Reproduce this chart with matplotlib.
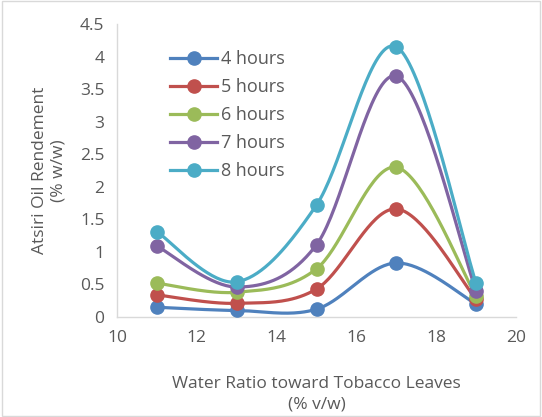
import numpy as np
import matplotlib.pyplot as plt
from matplotlib.patches import Rectangle

# water ratio (% v/w)
ratio = [11, 13, 15, 17, 19]
h4 = [0.15, 0.10, 0.12, 0.83, 0.20]
h5 = [0.34, 0.21, 0.43, 1.66, 0.27]
h6 = [0.52, 0.38, 0.74, 2.30, 0.32]
h7 = [1.09, 0.46, 1.11, 3.70, 0.40]
h8 = [1.31, 0.54, 1.72, 4.15, 0.52]
labels = ['4 hours', '5 hours', '6 hours', '7 hours', '8 hours']
colors = ['#4F81BD', '#C0504D', '#9BBB59', '#8064A2', '#4BACC6']


def smooth(x, y, n=40):
    # Excel-like smoothed line: Bezier segments with Catmull-Rom control points
    x = np.asarray(x, float)
    y = np.asarray(y, float)
    px = np.concatenate([[x[0]], x, [x[-1]]])
    py = np.concatenate([[y[0]], y, [y[-1]]])
    xs, ys = [], []
    t = np.linspace(0, 1, n)
    for i in range(len(x) - 1):
        p0 = np.array([px[i + 1], py[i + 1]])
        p3 = np.array([px[i + 2], py[i + 2]])
        p1 = p0 + (np.array([px[i + 2], py[i + 2]]) - np.array([px[i], py[i]])) / 6
        p2 = p3 - (np.array([px[i + 3], py[i + 3]]) - np.array([px[i + 1], py[i + 1]])) / 6
        b = ((1 - t) ** 3)[:, None] * p0 + (3 * (1 - t) ** 2 * t)[:, None] * p1 \
            + (3 * (1 - t) * t ** 2)[:, None] * p2 + (t ** 3)[:, None] * p3
        xs.extend(b[:, 0])
        ys.extend(b[:, 1])
    return xs, ys


plt.rcParams['font.family'] = ['Open Sans', 'DejaVu Sans']
fig = plt.figure(figsize=(5.42, 4.17), dpi=100)
ax = fig.add_axes([117 / 542, 1 - 317 / 417, 399 / 542, 293 / 417])

for ys, lab, c in zip([h4, h5, h6, h7, h8], labels, colors):
    sx, sy = smooth(ratio, ys)
    ax.plot(sx, sy, color=c, lw=2.3, zorder=2)
    ax.plot(ratio, ys, 'o', color=c, ms=9.5, zorder=3)
    ax.plot([], [], '-o', color=c, lw=2.3, ms=9.5, label=lab)

ax.set_xlim(10, 20)
ax.set_ylim(0, 4.5)
ax.set_xticks([10, 12, 14, 16, 18, 20])
ax.set_yticks(np.arange(0, 4.51, 0.5))
ax.set_yticklabels(['0', '0.5', '1', '1.5', '2', '2.5', '3', '3.5', '4', '4.5'])
for s in ['top', 'right']:
    ax.spines[s].set_visible(False)
for s in ['left', 'bottom']:
    ax.spines[s].set_color('#D9D9D9')
    ax.spines[s].set_linewidth(1)
ax.tick_params(length=0, labelsize=12.5, colors='#595959', pad=9)
ax.set_xlabel('Water Ratio toward Tobacco Leaves\n(% v/w)', fontsize=12.5, color='#595959',
              labelpad=22, linespacing=1.4)
ax.set_ylabel('Atsiri Oil Rendement\n(% w/w)', fontsize=12.5, color='#595959',
              labelpad=10, linespacing=1.2)

ax.legend(loc='upper left', bbox_to_anchor=(0.133, 0.91), frameon=False, fontsize=13,
          labelcolor='#595959', handlelength=2.6, handletextpad=0.2, labelspacing=0.55,
          borderpad=0, borderaxespad=0)

fig.patches.append(Rectangle((0.003, 0.003), 0.994, 0.994, transform=fig.transFigure,
                             fill=False, edgecolor='#D9D9D9', lw=1))
fig.savefig('out.png', dpi=100)
